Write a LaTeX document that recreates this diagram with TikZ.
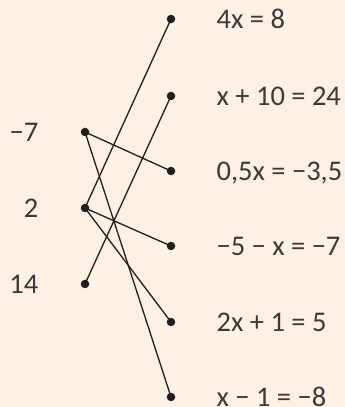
\documentclass[tikz,border=0pt]{standalone}
\usepackage{fontspec}
\setmainfont{Carlito}
\usepackage{tikz}
\usetikzlibrary{positioning}
\definecolor{fondo}{HTML}{FDF0E4}
\definecolor{texto}{HTML}{3A3A3A}

\begin{document}
\begin{tikzpicture}[x=1pt, y=1pt,
        punto/.style={circle, fill=black!88, inner sep=0pt, minimum size=8.5pt},
        valor/.style={inner sep=0pt, text depth=0pt, text=texto, font=\fontsize{28.5}{34}\selectfont},
        ecuacion/.style={inner sep=0pt, text depth=0pt, text=texto, font=\fontsize{28.5}{34}\selectfont},
        linea/.style={black!88, line width=1.3pt}
    ]
        % --- Fondo ---
        \path[use as bounding box, fill=fondo] (0,0) rectangle (345,407);

        % --- Valores (columna izquierda) ---
        \node[punto] (v1) at (85,275) {};
        \node[punto] (v2) at (85,199) {};
        \node[punto] (v3) at (85,123) {};
        \node[valor, left=42pt of v1] (l1) {−7};
        \node[valor, left=42pt of v2] (l2) {2};
        \node[valor, left=42pt of v3] (l3) {14};

        % --- Ecuaciones (columna derecha) ---
        \node[punto] (e1) at (171,388) {};
        \node[punto] (e2) at (171,311) {};
        \node[punto] (e3) at (171,236) {};
        \node[punto] (e4) at (171,161) {};
        \node[punto] (e5) at (171,85) {};
        \node[punto] (e6) at (171,10) {};
        \node[ecuacion, right=41pt of e1] (q1) {4x = 8};
        \node[ecuacion, right=41pt of e2] (q2) {x + 10 = 24};
        \node[ecuacion, right=41pt of e3] (q3) {0,5x = −3,5};
        \node[ecuacion, right=41pt of e4] (q4) {−5 − x = −7};
        \node[ecuacion, right=41pt of e5] (q5) {2x + 1 = 5};
        \node[ecuacion, right=41pt of e6] (q6) {x − 1 = −8};

        % ================= UNIONES =================
        \draw[linea] (v1.center) -- (e3.center);
        \draw[linea] (v1.center) -- (e6.center);
        \draw[linea] (v2.center) -- (e1.center);
        \draw[linea] (v2.center) -- (e4.center);
        \draw[linea] (v2.center) -- (e5.center);
        \draw[linea] (v3.center) -- (e2.center);

    \end{tikzpicture}
\end{document}
